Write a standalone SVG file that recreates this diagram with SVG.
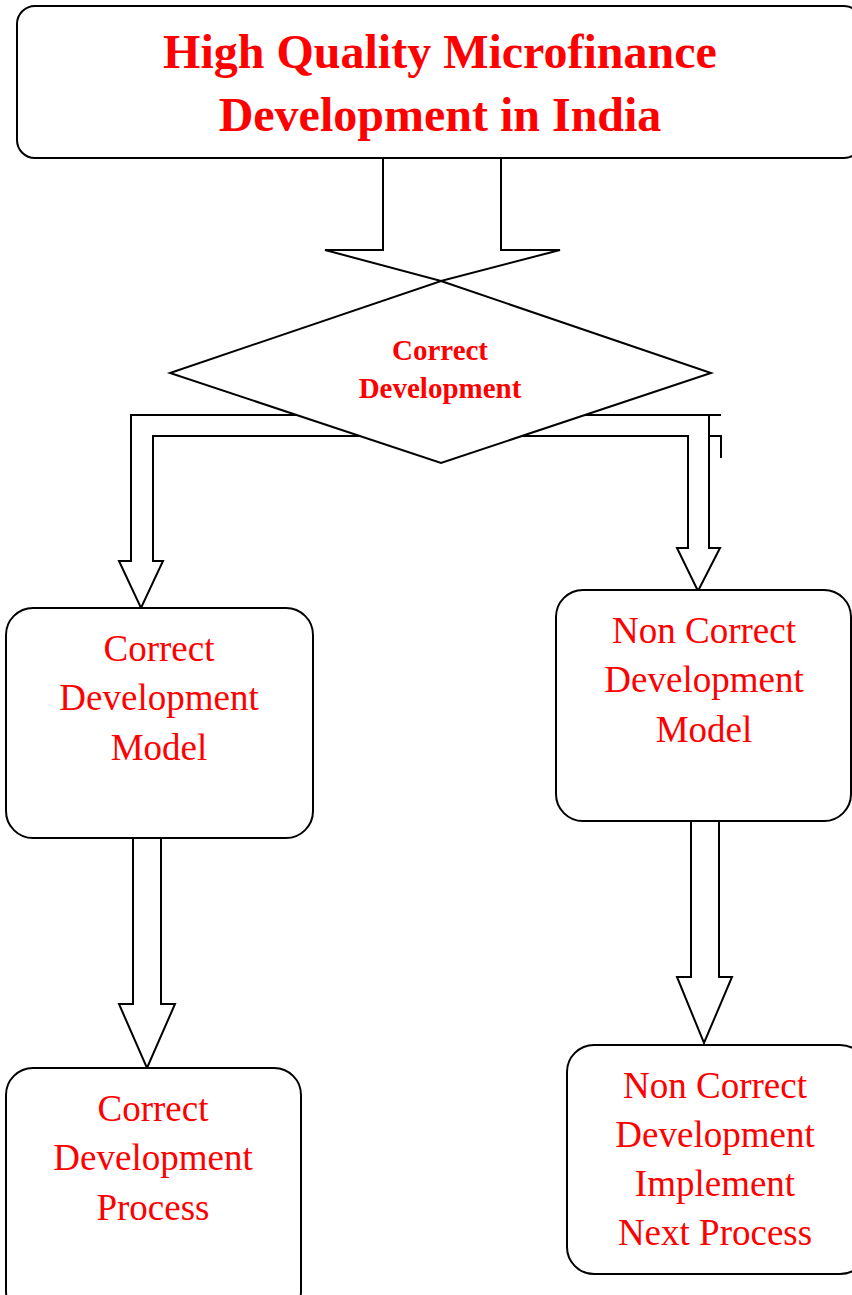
<svg xmlns="http://www.w3.org/2000/svg" width="852" height="1295" viewBox="0 0 852 1295">
<style>
.box{fill:#fff;stroke:#000;stroke-width:2}
.arr{fill:#fff;stroke:#000;stroke-width:2;stroke-linejoin:miter}
.ln{fill:none;stroke:#000;stroke-width:2}
.t{font-family:"Liberation Serif","Times New Roman",serif;fill:#ff0000;text-anchor:middle}
.title{font-size:48px;font-weight:bold}
.dt{font-size:29px;font-weight:bold}
.nt{font-size:37px}
</style>
<rect width="852" height="1295" fill="#fff"/>
<g id="connectors">
<polygon class="arr" points="383,157 383,250 325,250 441,281 560,250 501,250 501,157"/>
<polyline class="arr" points="441,415 131,415 131,561 119,561 141,608 163,561 153,561 153,436 441,436"/>
<polyline class="arr" points="441,415 721,415 709,415 709,548 720,548 698,591 677,548 688,548 688,436 441,436"/>
<polyline class="ln" points="709,436 721,436 721,458"/>
<polygon class="arr" points="133,838 133,1004 119,1004 147,1068 175,1004 161,1004 161,838"/>
<polygon class="arr" points="691,821 691,977 677,977 704,1043 732,977 719,977 719,821"/>
</g>
<g id="title-node">
<rect class="box" x="17" y="6" width="845" height="152" rx="18"/>
<text class="t title" x="440" y="68">High Quality Microfinance</text>
<text class="t title" x="440" y="131">Development in India</text>
</g>
<g id="decision">
<polygon class="box" points="441,281 711,373 441,463 170,373"/>
<text class="t dt" x="440" y="360">Correct</text>
<text class="t dt" x="440" y="398">Development</text>
</g>
<g id="correct-model">
<rect class="box" x="6" y="608" width="307" height="230" rx="27"/>
<text class="t nt" x="159" y="661">Correct</text>
<text class="t nt" x="159" y="710">Development</text>
<text class="t nt" x="159" y="760">Model</text>
</g>
<g id="noncorrect-model">
<rect class="box" x="556" y="590" width="295" height="231" rx="27"/>
<text class="t nt" x="704" y="643">Non Correct</text>
<text class="t nt" x="704" y="692">Development</text>
<text class="t nt" x="704" y="742">Model</text>
</g>
<g id="correct-process">
<rect class="box" x="6" y="1068" width="295" height="250" rx="27"/>
<text class="t nt" x="153" y="1121">Correct</text>
<text class="t nt" x="153" y="1170">Development</text>
<text class="t nt" x="153" y="1220">Process</text>
</g>
<g id="noncorrect-next">
<rect class="box" x="567" y="1045" width="300" height="229" rx="27"/>
<text class="t nt" x="715" y="1098">Non Correct</text>
<text class="t nt" x="715" y="1147">Development</text>
<text class="t nt" x="715" y="1196">Implement</text>
<text class="t nt" x="715" y="1245">Next Process</text>
</g>
</svg>
